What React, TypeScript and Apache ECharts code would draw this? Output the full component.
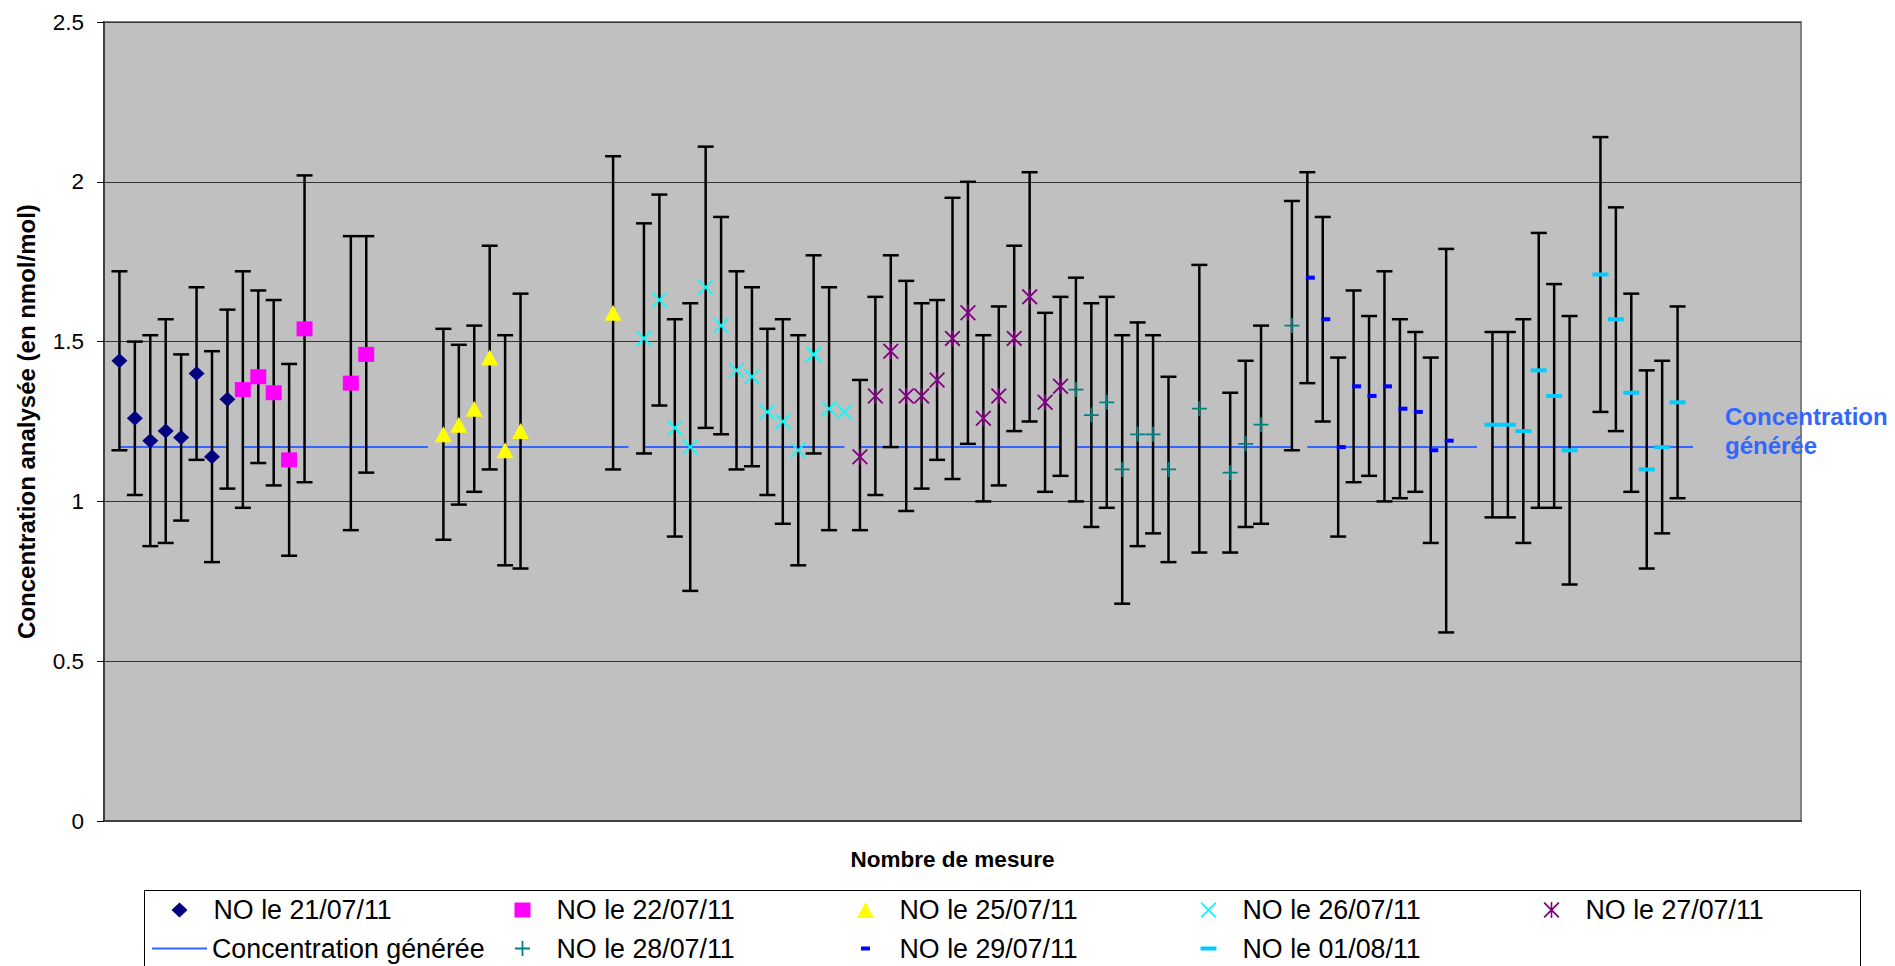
import React, { useEffect, useRef } from 'react';
import * as echarts from 'echarts';

const FONT = '"Liberation Sans", Arial, Helvetica, sans-serif';

// Axes
const yMin = 0;
const yMax = 2.5;
const yStep = 0.5;
const xMin = 0;
const xMax = 110;

// Concentration générée (reference line segments)
const genValue = 1.17;
const genStart = [1, 9, 22, 35, 49, 63, 78, 90];
const genEnd = [8, 21, 34, 48, 62, 77, 89, 103];

// NO le 21/07/11
const x2107 = [1, 2, 3, 4, 5, 6, 7, 8];
const v2107 = [1.44, 1.26, 1.19, 1.22, 1.2, 1.4, 1.14, 1.32];
const lo2107 = [1.16, 1.02, 0.86, 0.87, 0.94, 1.13, 0.81, 1.04];
const hi2107 = [1.72, 1.5, 1.52, 1.57, 1.46, 1.67, 1.47, 1.6];

// NO le 22/07/11
const x2207 = [9, 10, 11, 12, 13, 16, 17];
const v2207 = [1.35, 1.39, 1.34, 1.13, 1.54, 1.37, 1.46];
const lo2207 = [0.98, 1.12, 1.05, 0.83, 1.06, 0.91, 1.09];
const hi2207 = [1.72, 1.66, 1.63, 1.43, 2.02, 1.83, 1.83];

// NO le 25/07/11
const x2507 = [22, 23, 24, 25, 26, 27, 33];
const v2507 = [1.21, 1.24, 1.29, 1.45, 1.16, 1.22, 1.59];
const lo2507 = [0.88, 0.99, 1.03, 1.1, 0.8, 0.79, 1.1];
const hi2507 = [1.54, 1.49, 1.55, 1.8, 1.52, 1.65, 2.08];

// NO le 26/07/11
const x2607 = [35, 36, 37, 38, 39, 40, 41, 42, 43, 44, 45, 46, 47, 48];
const v2607 = [1.51, 1.63, 1.23, 1.17, 1.67, 1.55, 1.41, 1.39, 1.28, 1.25, 1.16, 1.46, 1.29, 1.28];
const lo2607 = [1.15, 1.3, 0.89, 0.72, 1.23, 1.21, 1.1, 1.11, 1.02, 0.93, 0.8, 1.15, 0.91, null];
const hi2607 = [1.87, 1.96, 1.57, 1.62, 2.11, 1.89, 1.72, 1.67, 1.54, 1.57, 1.52, 1.77, 1.67, null];

// NO le 27/07/11
const x2707 = [49, 50, 51, 52, 53, 54, 55, 56, 57, 58, 59, 60, 61, 62];
const v2707 = [1.14, 1.33, 1.47, 1.33, 1.33, 1.38, 1.51, 1.59, 1.26, 1.33, 1.51, 1.64, 1.31, 1.36];
const lo2707 = [0.91, 1.02, 1.17, 0.97, 1.04, 1.13, 1.07, 1.18, 1.0, 1.05, 1.22, 1.25, 1.03, 1.08];
const hi2707 = [1.38, 1.64, 1.77, 1.69, 1.62, 1.63, 1.95, 2.0, 1.52, 1.61, 1.8, 2.03, 1.59, 1.64];

// NO le 28/07/11
const x2807 = [63, 64, 65, 66, 67, 68, 69, 71, 73, 74, 75, 77];
const v2807 = [1.35, 1.27, 1.31, 1.1, 1.21, 1.21, 1.1, 1.29, 1.09, 1.18, 1.24, 1.55];
const lo2807 = [1.0, 0.92, 0.98, 0.68, 0.86, 0.9, 0.81, 0.84, 0.84, 0.92, 0.93, 1.16];
const hi2807 = [1.7, 1.62, 1.64, 1.52, 1.56, 1.52, 1.39, 1.74, 1.34, 1.44, 1.55, 1.94];

// NO le 29/07/11
const x2907 = [78, 79, 80, 81, 82, 83, 84, 85, 86, 87];
const v2907 = [1.7, 1.57, 1.17, 1.36, 1.33, 1.36, 1.29, 1.28, 1.16, 1.19];
const lo2907 = [1.37, 1.25, 0.89, 1.06, 1.08, 1.0, 1.01, 1.03, 0.87, 0.59];
const hi2907 = [2.03, 1.89, 1.45, 1.66, 1.58, 1.72, 1.57, 1.53, 1.45, 1.79];

// NO le 01/08/11
const x0108 = [90, 91, 92, 93, 94, 95, 97, 98, 99, 100, 101, 102];
const v0108 = [1.24, 1.24, 1.22, 1.41, 1.33, 1.16, 1.71, 1.57, 1.34, 1.1, 1.17, 1.31];
const lo0108 = [0.95, 0.95, 0.87, 0.98, 0.98, 0.74, 1.28, 1.22, 1.03, 0.79, 0.9, 1.01];
const hi0108 = [1.53, 1.53, 1.57, 1.84, 1.68, 1.58, 2.14, 1.92, 1.65, 1.41, 1.44, 1.61];

const GEN_NAME = 'Concentration générée';

// Marker shapes
const SYM_DIAMOND = 'path://M8,0L16,7.5L8,15L0,7.5Z';
const SYM_SQUARE = 'path://M0,0L16,0L16,15L0,15Z';
const SYM_TRIANGLE = 'path://M8.5,0L17,16L0,16Z';
const SYM_X = 'path://M0,8L8,0L50,42L92,0L100,8L58,50L100,92L92,100L50,58L8,100L0,92L42,50Z';
const SYM_STAR =
  'path://M0,8L8,0L50,42L92,0L100,8L58,50L100,92L92,100L50,58L8,100L0,92L42,50Z M45,0L55,0L55,100L45,100Z';
const SYM_PLUS = 'path://M44,0L56,0L56,44L100,44L100,56L56,56L56,100L44,100L44,56L0,56L0,44L44,44Z';
const SYM_DASH_S = 'path://M0,0L9,0L9,4L0,4Z';
const SYM_DASH_L = 'path://M0,0L16,0L16,4L0,4Z';

const groups = [
  { name: 'NO le 21/07/11', x: x2107, v: v2107, lo: lo2107, hi: hi2107, color: '#000080', symbol: SYM_DIAMOND, size: [16, 15], offset: [0, 0] },
  { name: 'NO le 22/07/11', x: x2207, v: v2207, lo: lo2207, hi: hi2207, color: '#FF00FF', symbol: SYM_SQUARE, size: [16, 15], offset: [0, 0] },
  { name: 'NO le 25/07/11', x: x2507, v: v2507, lo: lo2507, hi: hi2507, color: '#FFFF00', symbol: SYM_TRIANGLE, size: [17, 16], offset: [0, 0] },
  { name: 'NO le 26/07/11', x: x2607, v: v2607, lo: lo2607, hi: hi2607, color: '#00FFFF', symbol: SYM_X, size: [16, 16], offset: [0, 0] },
  { name: 'NO le 27/07/11', x: x2707, v: v2707, lo: lo2707, hi: hi2707, color: '#800080', symbol: SYM_STAR, size: [16, 16], offset: [0, 0] },
  { name: 'NO le 28/07/11', x: x2807, v: v2807, lo: lo2807, hi: hi2807, color: '#008080', symbol: SYM_PLUS, size: [15, 15], offset: [0, 0] },
  { name: 'NO le 29/07/11', x: x2907, v: v2907, lo: lo2907, hi: hi2907, color: '#0000FF', symbol: SYM_DASH_S, size: [9, 4], offset: [3, 0] },
  { name: 'NO le 01/08/11', x: x0108, v: v0108, lo: lo0108, hi: hi0108, color: '#00CCFF', symbol: SYM_DASH_L, size: [16, 4], offset: [0, 0] },
];

// legend layout: [group index or -1 for line, column, row]
const legendSlots: Array<[number, number, number]> = [
  [0, 0, 0], [1, 1, 0], [2, 2, 0], [3, 3, 0], [4, 4, 0],
  [-1, 0, 1], [5, 1, 1], [6, 2, 1], [7, 3, 1],
];

export default function App() {
  const ref = useRef<HTMLDivElement>(null);

  useEffect(() => {
    if (!ref.current) return;
    const chart = echarts.init(ref.current, undefined, { renderer: 'svg' });

    const errData: number[][] = [];
    groups.forEach((g) => {
      g.x.forEach((xx, i) => {
        if (g.lo[i] != null && g.hi[i] != null) errData.push([xx, g.lo[i] as number, g.hi[i] as number]);
      });
    });

    const series: any[] = [];
    genStart.forEach((s, i) => {
      series.push({
        name: GEN_NAME,
        type: 'line',
        data: [[s, genValue], [genEnd[i], genValue]],
        showSymbol: false,
        symbol: 'none',
        silent: true,
        lineStyle: { color: '#3366FF', width: 2 },
        itemStyle: { color: '#3366FF' },
        z: 2,
      });
    });
    series.push({
      name: 'errbars',
      type: 'custom',
      data: errData,
      encode: { x: 0, y: [1, 2] },
      silent: true,
      z: 3,
      renderItem: (params: any, api: any) => {
        const xv = api.value(0);
        const a = api.coord([xv, api.value(1)]);
        const b = api.coord([xv, api.value(2)]);
        const half = 8;
        const st = { stroke: '#000', lineWidth: 2.5 };
        return {
          type: 'group',
          children: [
            { type: 'line', shape: { x1: a[0], y1: a[1], x2: b[0], y2: b[1] }, style: st },
            { type: 'line', shape: { x1: a[0] - half, y1: a[1], x2: a[0] + half, y2: a[1] }, style: st },
            { type: 'line', shape: { x1: b[0] - half, y1: b[1], x2: b[0] + half, y2: b[1] }, style: st },
          ],
        };
      },
    });
    groups.forEach((g) => {
      series.push({
        name: g.name,
        type: 'scatter',
        data: g.x.map((xx, i) => [xx, g.v[i]]),
        symbol: g.symbol,
        symbolSize: g.size,
        symbolOffset: g.offset,
        itemStyle: { color: g.color, opacity: 1, borderWidth: 0 },
        z: 4,
      });
    });

    const colCenter = (c: number) => 179.5 + 343 * c;
    const rowY = [910, 948.5];
    const legendText = { fontSize: 26.8, fontFamily: FONT, color: '#000', lineHeight: 30 };
    const legends = legendSlots.map(([gi, col, row]) => {
      if (gi < 0) {
        return {
          data: [{ name: GEN_NAME, icon: 'path://M0,0L55,0L55,2L0,2Z', itemStyle: { color: '#3366FF', borderWidth: 0 } }],
          left: colCenter(col) - 27.5,
          top: rowY[row] - 15,
          itemWidth: 55,
          itemHeight: 2,
          padding: 0,
          selectedMode: false,
          textStyle: legendText,
        };
      }
      const g = groups[gi];
      return {
        data: [{ name: g.name, itemStyle: { color: g.color, borderWidth: 0 } }],
        left: colCenter(col) - g.size[0] / 2,
        top: rowY[row] - 15,
        itemWidth: 58,
        itemHeight: g.size[1],
        symbolKeepAspect: true,
        padding: 0,
        selectedMode: false,
        textStyle: legendText,
      };
    });

    chart.setOption({
      animation: false,
      backgroundColor: '#fff',
      grid: {
        left: 104,
        right: 94,
        top: 22,
        bottom: 145,
        show: true,
        backgroundColor: '#C0C0C0',
        borderColor: '#808080',
        borderWidth: 2,
      },
      xAxis: {
        type: 'value',
        min: xMin,
        max: xMax,
        name: 'Nombre de mesure',
        nameLocation: 'middle',
        nameGap: 27,
        nameTextStyle: { fontFamily: FONT, fontWeight: 'bold', fontSize: 22.5, color: '#000' },
        axisLine: { show: true, onZero: false, lineStyle: { color: '#404040', width: 2 } },
        axisTick: { show: false },
        axisLabel: { show: false },
        splitLine: { show: false },
      },
      yAxis: {
        type: 'value',
        min: yMin,
        max: yMax,
        interval: yStep,
        name: 'Concentration analysée (en nmol/mol)',
        nameLocation: 'middle',
        nameGap: 66,
        nameTextStyle: { fontFamily: FONT, fontWeight: 'bold', fontSize: 24, color: '#000' },
        axisLine: { show: true, lineStyle: { color: '#404040', width: 2 } },
        axisTick: { show: true, length: 7, lineStyle: { color: '#000', width: 1 } },
        axisLabel: { margin: 20, fontFamily: FONT, fontSize: 22.5, color: '#000' },
        splitLine: { show: true, lineStyle: { color: '#333', width: 1 } },
      },
      legend: legends,
      graphic: [
        {
          type: 'rect',
          z: 0,
          shape: { x: 144.5, y: 890.5, width: 1716, height: 120 },
          style: { fill: '#fff', stroke: '#000', lineWidth: 1 },
          silent: true,
        },
        {
          type: 'text',
          z: 10,
          x: 1725,
          y: 402,
          style: {
            text: 'Concentration\ngénérée',
            font: 'bold 24px "Liberation Sans", Arial, sans-serif',
            fill: '#3366FF',
            lineHeight: 29,
            verticalAlign: 'top',
          },
          silent: true,
        },
      ],
      series,
    });

    return () => chart.dispose();
  }, []);

  return (
    <div
      ref={ref}
      style={{ position: 'absolute', left: 0, top: 0, width: '1895px', height: '966px' }}
    />
  );
}
